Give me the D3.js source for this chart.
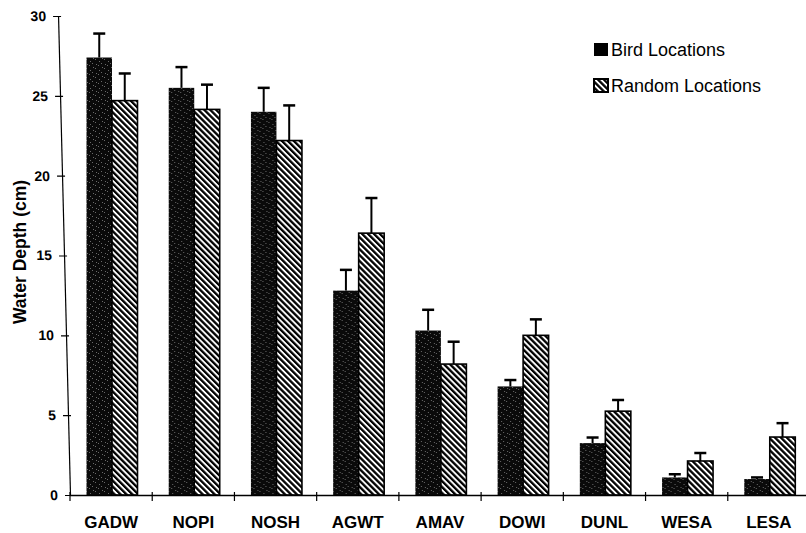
<!DOCTYPE html>
<html>
<head>
<meta charset="utf-8">
<script src="https://cdn.jsdelivr.net/npm/d3@7"></script>
<style>
  body { margin: 0; background: #fff; }
  svg { font-family: "Liberation Sans", Arial, sans-serif; }
</style>
</head>
<body>
<div id="chart"></div>
<script>
// Species codes along the x axis
const categories = ['GADW', 'NOPI', 'NOSH', 'AGWT', 'AMAV', 'DOWI', 'DUNL', 'WESA', 'LESA'];
const seriesNames = ['Bird Locations', 'Random Locations'];

// Mean water depth (cm) and top of the error bar
const birdMeans = [27.4, 25.5, 24.0, 12.8, 10.3, 6.8, 3.25, 1.1, 1.0];
const birdErrTop = [28.9, 26.8, 25.5, 14.1, 11.6, 7.2, 3.6, 1.3, 1.1];
const randomMeans = [24.7, 24.15, 22.2, 16.4, 8.2, 10.0, 5.25, 2.13, 3.63];
const randomErrTop = [26.4, 25.7, 24.4, 18.6, 9.6, 11.0, 5.95, 2.63, 4.5];

const yTicks = [0, 5, 10, 15, 20, 25, 30];

const width = 806, height = 533;

const svg = d3.select('#chart')
  .append('svg')
  .attr('width', width)
  .attr('height', height);

// Patterns: speckled black for bird bars, diagonal hatch for random bars
const defs = svg.append('defs');

const speck = defs.append('pattern')
  .attr('id', 'speck')
  .attr('patternUnits', 'userSpaceOnUse')
  .attr('width', 9)
  .attr('height', 9);
speck.append('rect').attr('width', 9).attr('height', 9).attr('fill', '#0a0a0a');
[[1, 2], [4, 0], [7, 5], [2, 7], [5, 4], [8, 1]].forEach(p => {
  speck.append('rect')
    .attr('x', p[0]).attr('y', p[1])
    .attr('width', 1).attr('height', 1)
    .attr('fill', '#6a6a6a');
});

const hatch = defs.append('pattern')
  .attr('id', 'hatch')
  .attr('patternUnits', 'userSpaceOnUse')
  .attr('width', 4.2)
  .attr('height', 4.2)
  .attr('patternTransform', 'rotate(-45)');
hatch.append('rect').attr('width', 4.2).attr('height', 4.2).attr('fill', '#fff');
hatch.append('rect').attr('width', 2.3).attr('height', 4.2).attr('fill', '#000');

// Scales
const x0 = d3.scaleBand()
  .domain(categories)
  .range([70, 810])
  .padding(0);

const x1 = d3.scaleBand()
  .domain(seriesNames)
  .range([16.5, 67.5]);

const y = d3.scaleLinear()
  .domain([0, 30])
  .range([495, 16]);

// Build a row per category
const rows = categories.map((c, i) => ({
  cat: c,
  values: [
    { series: seriesNames[0], mean: birdMeans[i], err: birdErrTop[i] },
    { series: seriesNames[1], mean: randomMeans[i], err: randomErrTop[i] }
  ]
}));

// Y axis (scanned original leans slightly, reproduce with a small skew)
const yAxisG = svg.append('g')
  .attr('transform', 'translate(70,495) skewX(1.43) translate(0,-495)')
  .call(d3.axisLeft(y).tickValues(yTicks).tickSizeInner(4).tickSizeOuter(0).tickPadding(8));

yAxisG.select('.domain').attr('stroke', '#000').attr('stroke-width', 1.2);
yAxisG.selectAll('.tick line').attr('x1', 3).attr('x2', -5).attr('stroke-width', 1.2);
yAxisG.selectAll('.tick text')
  .attr('font-size', 14)
  .attr('font-weight', 'bold')
  .attr('fill', '#000');

// Y axis title
svg.append('text')
  .attr('transform', 'translate(26,252) rotate(-90)')
  .attr('text-anchor', 'middle')
  .attr('font-size', 17.5)
  .attr('font-weight', 'bold')
  .text('Water Depth (cm)');

// Bars
const groups = svg.selectAll('.group')
  .data(rows)
  .enter().append('g')
  .attr('class', 'group')
  .attr('transform', d => `translate(${x0(d.cat)},0)`);

groups.selectAll('rect.bar')
  .data(d => d.values)
  .enter().append('rect')
  .attr('class', 'bar')
  .attr('x', d => x1(d.series))
  .attr('width', x1.bandwidth())
  .attr('y', d => y(d.mean))
  .attr('height', d => y(0) - y(d.mean))
  .attr('fill', d => d.series === seriesNames[0] ? 'url(#speck)' : 'url(#hatch)')
  .attr('stroke', '#000')
  .attr('stroke-width', d => d.series === seriesNames[0] ? 0 : 1.6);

// Error bars
groups.selectAll('line.err')
  .data(d => d.values)
  .enter().append('line')
  .attr('class', 'err')
  .attr('x1', d => x1(d.series) + x1.bandwidth() / 2)
  .attr('x2', d => x1(d.series) + x1.bandwidth() / 2)
  .attr('y1', d => y(d.mean))
  .attr('y2', d => y(d.err))
  .attr('stroke', '#000')
  .attr('stroke-width', 2);

groups.selectAll('line.cap')
  .data(d => d.values)
  .enter().append('line')
  .attr('class', 'cap')
  .attr('x1', d => x1(d.series) + x1.bandwidth() / 2 - 6)
  .attr('x2', d => x1(d.series) + x1.bandwidth() / 2 + 6)
  .attr('y1', d => y(d.err))
  .attr('y2', d => y(d.err))
  .attr('stroke', '#000')
  .attr('stroke-width', 2.5);

// X axis: baseline, boundary ticks and labels
svg.append('line')
  .attr('x1', 70).attr('x2', 806)
  .attr('y1', y(0) + 0.5).attr('y2', y(0) + 0.5)
  .attr('stroke', '#000')
  .attr('stroke-width', 1.4);

svg.selectAll('.xtick')
  .data(categories)
  .enter().append('line')
  .attr('class', 'xtick')
  .attr('x1', d => x0(d)).attr('x2', d => x0(d))
  .attr('y1', y(0) - 3).attr('y2', y(0) + 6)
  .attr('stroke', '#000')
  .attr('stroke-width', 1.2);

const xAxisG = svg.append('g')
  .attr('transform', `translate(0,${y(0)})`)
  .call(d3.axisBottom(x0).tickSize(0).tickPadding(21));

xAxisG.select('.domain').remove();
xAxisG.selectAll('.tick text')
  .attr('font-size', 17)
  .attr('font-weight', 'bold')
  .attr('fill', '#000');

// Legend
const legend = svg.append('g');
const legendY = [43, 79];
seriesNames.forEach((s, i) => {
  legend.append('rect')
    .attr('x', 594)
    .attr('y', legendY[i])
    .attr('width', 14)
    .attr('height', 13)
    .attr('fill', i === 0 ? '#000' : 'url(#hatch)')
    .attr('stroke', '#000')
    .attr('stroke-width', i === 0 ? 0 : 2);
  legend.append('text')
    .attr('x', 611)
    .attr('y', legendY[i] + 13)
    .attr('font-size', 18)
    .text(s);
});
</script>
</body>
</html>
